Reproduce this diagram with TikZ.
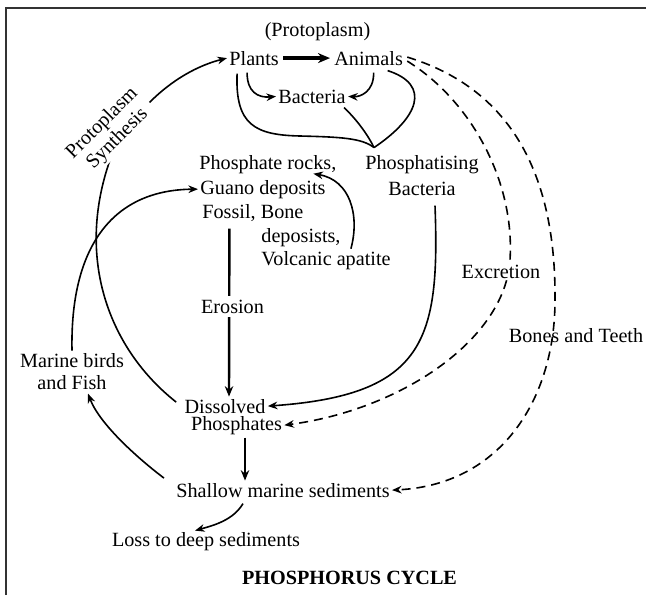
\documentclass[tikz,border=0pt]{standalone}
\usepackage{fontspec}
\setmainfont{Liberation Serif}
\usetikzlibrary{arrows.meta}
\begin{document}
\begin{tikzpicture}[x=0.5pt,y=-0.5pt,
  every node/.style={inner sep=1pt, font=\fontsize{10.1}{12}\selectfont},
  lbl/.style={anchor=base},
  lblw/.style={anchor=base west},
  conn/.style={line width=0.8pt, -{Stealth[length=4.8pt,width=3.8pt]}},
  plain/.style={line width=0.8pt},
  dashconn/.style={conn, dash pattern=on 4.5pt off 3pt},
  thickconn/.style={line width=1.2pt, -{Stealth[length=5.2pt,width=4.2pt]}},
  boldconn/.style={line width=1.7pt, -{Stealth[length=6pt,width=5pt]}},
  frame/.style={line width=1pt, draw=black!80}
]
\useasboundingbox (0,0) rectangle (646,595);
\draw[frame] (5.5,595) -- (5.5,8) -- (646,8);

% --- texts ---
\node[lbl] (proto) at (317.5,36) {(Protoplasm)};
\node[lblw] (plants) at (227,65) {Plants};
\node[lblw] (animals) at (332,65) {Animals};
\node[lblw] (bact) at (276,103) {Bacteria};
\node[lbl] (phbA) at (422,169) {Phosphatising};
\node[lbl] (phbB) at (422,195) {Bacteria};
\node[lblw] (rk1) at (197,169) {Phosphate rocks,};
\node[lblw] (rk2) at (198,194) {Guano deposits};
\node[lblw] (rk3) at (200,218) {Fossil, Bone};
\node[lblw] (rk4) at (259,242) {deposists,};
\node[lblw] (rk5) at (259,265) {Volcanic apatite};
\node[lbl] (dis) at (225,413) {Dissolved};
\node[lbl] (pho) at (236.5,430) {Phosphates};
\node[lbl] (shallow) at (283,497) {Shallow marine sediments};
\node[lbl] (loss) at (206,546) {Loss to deep sediments};
\node[lbl] (birds) at (72,367) {Marine birds};
\node[lbl] (fish) at (72,389) {and Fish};
\node[lbl, font=\fontsize{10.1}{12}\selectfont\bfseries] (title) at (349.5,584) {PHOSPHORUS CYCLE};

% meeting point above the phosphatising bacteria
\coordinate (J) at ([shift={(-48,-5)}]phbA.north);

% --- connectors ---
\draw[boldconn, shorten <=1pt, shorten >=1pt] (plants.east) -- (animals.west);
\draw[conn] ([shift={(-7,5)}]plants.south) .. controls (247,92) and (258,98) .. (bact.west);
\draw[conn] ([shift={(5,5)}]animals.south) .. controls (374,92) and (360,97) .. (bact.east);

\draw[plain] ([shift={(-17,6)}]plants.south) .. controls (235,125) and (255,135) .. (300,136)
  .. controls (340,137) and (362,138) .. (J);
\draw[plain] ([shift={(19,3)}]animals.south) .. controls (432,85) and (418,118) .. (J);
\draw[plain] ([shift={(-4,2)}]bact.south east) .. controls (355,118) and (367,133) .. (J);

\draw[conn] ([shift={(13,8)}]phbB.south) .. controls (440,340) and (425,395) .. (dis.east);

\draw[dashconn] ([shift={(2,3)}]animals.east) .. controls (470,100) and (515,180) .. (510,260)
  .. controls (505,340) and (400,410) .. (pho.east);
\draw[dashconn] ([shift={(2,-1)}]animals.east) .. controls (515,90) and (556,180) .. (555,300)
  .. controls (555,400) and (500,485) .. (shallow.east);

\draw[conn] ([shift={(8,0)}]rk4.south east) .. controls (360,215) and (350,180) .. ([shift={(45.5,-2)}]rk1.south);

\draw[thickconn] ([shift={(-23.5,5)}]rk3.south) -- ([shift={(4,0)}]dis.north);
\draw[thickconn] ([shift={(8.5,1)}]pho.south) -- ([shift={(-38,0)}]shallow.north);
\draw[conn] ([shift={(-40,4)}]shallow.south) .. controls (233,520) and (215,525) .. ([shift={(-11,1)}]loss.north);
\draw[conn] ([shift={(-10,-12)}]shallow.west) .. controls (140,460) and (100,425) .. ([shift={(16,2)}]fish.south);
\draw[conn] (birds.north) .. controls (70,250) and (110,190) .. (rk2.west);
\draw[conn] ([shift={(-6,-4)}]dis.west) .. controls (110,350) and (75,260) .. (110,160)
  .. controls (135,105) and (180,70) .. (plants.west);

% --- labels lying on connectors ---
\node[lbl, fill=white, inner ysep=2pt] (erosion) at (232.5,313) {Erosion};
\node[lbl, fill=white] (excr) at (501,278) {Excretion};
\node[lbl] (bones) at (576,342) {Bones and Teeth};
\node[fill=white, rotate=45, align=center, font=\fontsize{10.1}{10.8}\selectfont] (synth) at (110,131) {Protoplasm\\Synthesis};
\end{tikzpicture}
\end{document}
